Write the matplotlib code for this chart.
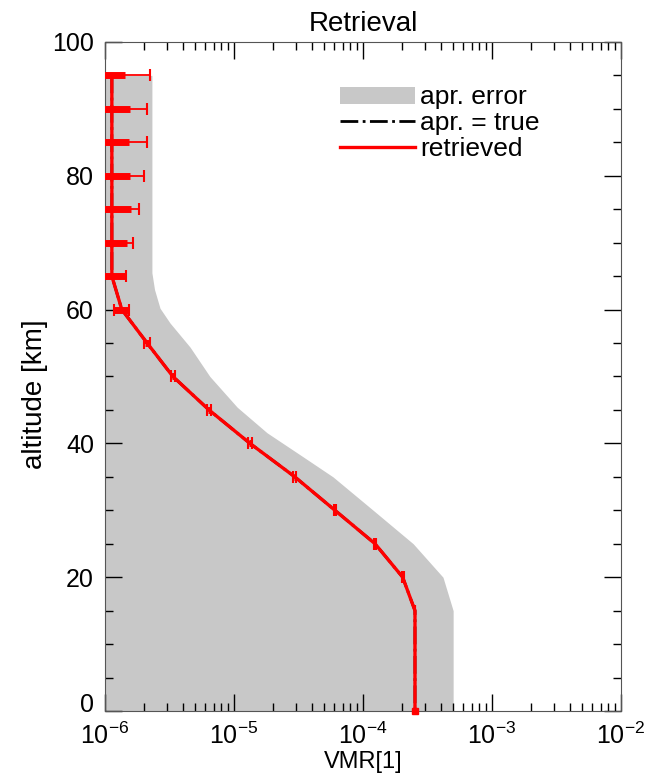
import numpy as np
import matplotlib.pyplot as plt
from matplotlib.patches import Patch
from matplotlib.lines import Line2D
from matplotlib.ticker import LogLocator, MultipleLocator
from matplotlib.transforms import ScaledTranslation

plt.rcParams['font.family'] = ['Liberation Sans', 'DejaVu Sans']
plt.rcParams['mathtext.default'] = 'regular'

# === Data ===
altitude = [95, 90, 85, 80, 75, 70, 65, 60, 55, 50, 45, 40, 35, 30, 25, 20, 15, 10, 5, 0]
retrieved = [1.13e-6, 1.13e-6, 1.13e-6, 1.13e-6, 1.13e-6, 1.13e-6, 1.13e-6, 1.35e-6,
             2.12e-6, 3.36e-6, 6.4e-6, 1.33e-5, 2.96e-5, 6.06e-5, 1.24e-4, 2.03e-4,
             2.53e-4, 2.53e-4, 2.53e-4, 2.53e-4]
apriori = retrieved  # apr. = true, hidden under the retrieved curve
err_total = [1.10e-6, 0.99e-6, 0.99e-6, 0.87e-6, 0.70e-6, 0.52e-6, 0.32e-6, 0.18e-6,
             0.10e-6, 0.14e-6, 0.25e-6, 0.40e-6, 0.80e-6, 1.5e-6, 3.0e-6, 4.0e-6,
             0, 0, 0, 0]
err_meas = [0.30e-6, 0.43e-6, 0.40e-6, 0.43e-6, 0.46e-6, 0.35e-6, 0.30e-6, 0.17e-6,
            0.08e-6, 0.08e-6, 0.12e-6, 0.20e-6, 0.40e-6, 0.8e-6, 1.5e-6, 2.0e-6,
            0, 0, 0, 0]

# upper edge of the a-priori error band
band_alt = [0, 15, 20, 25, 30, 35, 38, 41.6, 45.4, 50, 54.4, 58, 60.2, 63, 65.5, 95]
band_upper = [5.0e-4, 5.0e-4, 4.17e-4, 2.45e-4, 1.2e-4, 5.85e-5, 3.43e-5, 1.8e-5,
              1.06e-5, 6.5e-6, 4.56e-6, 3.19e-6, 2.67e-6, 2.42e-6, 2.31e-6, 2.31e-6]

RED = '#ff0000'
GRAY = '#c8c8c8'

fig = plt.figure(figsize=(6.49, 7.73), dpi=100)
ax = fig.add_axes([0.1618, 0.0802, 0.795, 0.8655])

ax.fill_betweenx(band_alt, 1e-8, band_upper, color=GRAY, lw=0, zorder=1)
ax.plot(apriori, altitude, color='black', ls='-.', lw=2, zorder=2)

vals = np.array(retrieved)
et = np.array(err_total)
em = np.array(err_meas)
ax.errorbar(retrieved, altitude, xerr=[np.minimum(et, 0.95 * vals), et], fmt='none',
            ecolor=RED, elinewidth=1.3, capsize=4, capthick=1.5, zorder=3)
ax.errorbar(retrieved, altitude, xerr=[np.minimum(em, 0.95 * vals), em], fmt='none',
            ecolor=RED, elinewidth=5, capsize=0, zorder=3)
ax.plot(retrieved, altitude, color=RED, lw=2.4, zorder=4)
ax.plot([retrieved[-1]], [altitude[-1]], 's', color=RED, ms=5, clip_on=False, zorder=5)

ax.set_xscale('log')
ax.set_xlim(1e-6, 1e-2)
ax.set_ylim(0, 100)
ax.xaxis.set_major_locator(LogLocator(base=10, numticks=10))
ax.xaxis.set_minor_locator(LogLocator(base=10, subs=np.arange(2, 10), numticks=20))
ax.yaxis.set_major_locator(MultipleLocator(20))
ax.yaxis.set_minor_locator(MultipleLocator(5))
ax.tick_params(which='both', direction='in', top=True, right=True, labelsize=18)
ax.tick_params(axis='x', which='major', pad=8)
ax.tick_params(axis='y', which='major', pad=8)
ax.tick_params(which='major', length=12, width=1)
ax.tick_params(which='minor', length=6, width=1)
for s in ax.spines.values():
    s.set_color('#555555')

ax.set_title('Retrieval', fontsize=20, pad=8)
ax.set_xlabel('VMR[1]', fontsize=17, labelpad=2)
ax.set_ylabel('altitude [km]', fontsize=20)
ax.yaxis.set_label_coords(-0.11, 0.474)

handles = [Patch(facecolor=GRAY, edgecolor='none'),
           Line2D([], [], color='black', ls='-.', lw=2),
           Line2D([], [], color=RED, lw=2.4)]
ax.legend(handles, ['apr. error', 'apr. = true', 'retrieved'], loc='upper left',
          bbox_to_anchor=(0.455, 0.935), frameon=False, fontsize=19,
          handlelength=2.85, handleheight=0.6, handletextpad=0.2,
          labelspacing=0.06, borderpad=0, borderaxespad=0)

# the "0" label sits a little above its tick, as in the original
fig.canvas.draw()
for tick in ax.yaxis.get_major_ticks():
    if tick.get_loc() == 0:
        lbl = tick.label1
        lbl.set_transform(lbl.get_transform() + ScaledTranslation(0, 6 / 72, fig.dpi_scale_trans))

fig.savefig('out.png', dpi=100)
